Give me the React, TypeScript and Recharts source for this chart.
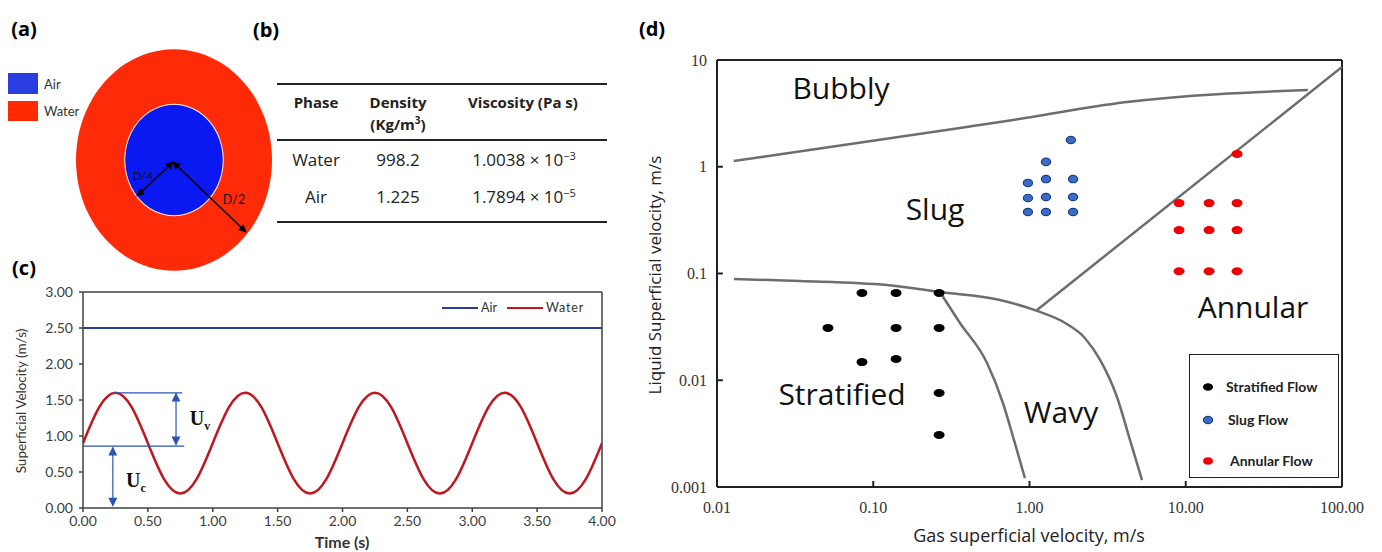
import React from "react";
import {
  LineChart,
  Line,
  XAxis,
  YAxis,
  ReferenceLine,
  ScatterChart,
  Scatter,
  PieChart,
  Pie,
  Cell,
} from "recharts";

// ---- panel (c): superficial velocity vs time ----
const timeTicks = [0, 0.5, 1, 1.5, 2, 2.5, 3, 3.5, 4];
const velTicks = [0, 0.5, 1, 1.5, 2, 2.5, 3];
const times = [
  0, 0.125, 0.25, 0.375, 0.5, 0.625, 0.75, 0.875,
  1, 1.125, 1.25, 1.375, 1.5, 1.625, 1.75, 1.875,
  2, 2.125, 2.25, 2.375, 2.5, 2.625, 2.75, 2.875,
  3, 3.125, 3.25, 3.375, 3.5, 3.625, 3.75, 3.875, 4,
];
const waterVel = [
  0.9, 1.4, 1.6, 1.4, 0.9, 0.4, 0.2, 0.4,
  0.9, 1.4, 1.6, 1.4, 0.9, 0.4, 0.2, 0.4,
  0.9, 1.4, 1.6, 1.4, 0.9, 0.4, 0.2, 0.4,
  0.9, 1.4, 1.6, 1.4, 0.9, 0.4, 0.2, 0.4, 0.9,
];
const airTimes = [0, 4];
const airVel = [2.5, 2.5];

// ---- panel (d): flow regime map ----
const gasTicks = [0.01, 0.1, 1, 10, 100];
const liqTicks = [0.001, 0.01, 0.1, 1, 10];

const bubblySlugX = [0.0128, 0.359, 0.647, 4.2, 60.5];
const bubblySlugY = [1.13, 2.31, 2.62, 4.04, 5.24];
const slugAnnularX = [1.117, 100];
const slugAnnularY = [0.0455, 8.6];
const stratUpperX = [0.01285, 0.034, 0.1225, 0.267, 0.647, 1.117, 1.69, 2.26, 2.83, 3.63, 4.4, 5.25];
const stratUpperY = [0.0888, 0.0851, 0.078, 0.0671, 0.0565, 0.0446, 0.0344, 0.0249, 0.0155, 0.00697, 0.00275, 0.00116];
const stratWavyX = [0.267, 0.359, 0.535, 0.676, 0.796, 0.935];
const stratWavyY = [0.0671, 0.0344, 0.0145, 0.00612, 0.00275, 0.00121];

const stratifiedX = [0.0847, 0.14, 0.264, 0.0513, 0.14, 0.264, 0.0847, 0.14, 0.264, 0.264];
const stratifiedY = [0.0656, 0.0656, 0.0656, 0.0309, 0.0309, 0.0309, 0.0148, 0.0158, 0.0076, 0.00307];
const slugX = [1.84, 1.275, 0.977, 1.275, 1.9, 0.977, 1.275, 1.9, 0.977, 1.275, 1.9];
const slugY = [1.78, 1.11, 0.705, 0.767, 0.767, 0.51, 0.521, 0.521, 0.377, 0.377, 0.377];
const annularX = [21.3, 9.06, 14.1, 21.3, 9.06, 14.1, 21.3, 9.06, 14.1, 21.3];
const annularY = [1.32, 0.457, 0.457, 0.457, 0.255, 0.255, 0.255, 0.105, 0.105, 0.105];

const innerTicksX = [0.1, 1, 10];
const innerTicksY = [0.01, 0.1, 1];

// ---- panel (b): properties table ----
const phases = ["Water", "Air"];
const densities = ["998.2", "1.225"];
const viscMantissa = ["1.0038", "1.7894"];
const viscExp = ["\u22123", "\u22125"];

const zip = (xs: number[], ys: number[]) => xs.map((x, i) => ({ x, y: ys[i] }));

const waterData = times.map((t, i) => ({ t, water: waterVel[i] }));
const airData = airTimes.map((t, i) => ({ t, air: airVel[i] }));

const sans = "'Open Sans', sans-serif";
const lato = "Lato, sans-serif";
const serif = "'Liberation Serif', 'Times New Roman', serif";

function T({ x, y, children, style }: { x: number; y: number; children: React.ReactNode; style?: React.CSSProperties }) {
  return (
    <div
      style={{
        position: "absolute",
        left: x,
        top: y,
        transform: "translate(-50%, -50%)",
        whiteSpace: "nowrap",
        lineHeight: 1,
        ...style,
      }}
    >
      {children}
    </div>
  );
}

const noDot = () => <g />;
const blackDot = (p: any) => <ellipse cx={p.cx} cy={p.cy} rx={5.5} ry={4} fill="#000" />;
const blueDot = (p: any) => (
  <ellipse cx={p.cx} cy={p.cy} rx={4.6} ry={3.7} fill="#3b6cc6" stroke="#1c3c86" strokeWidth={1.2} />
);
const redDot = (p: any) => <ellipse cx={p.cx} cy={p.cy} rx={5.5} ry={4} fill="#f20000" />;

const boundary = { stroke: "#6d6d6d", strokeWidth: 2.5 };

export default function App() {
  const blue = "#2b55b3";
  const axisGrey = "#404040";
  return (
    <div style={{ position: "absolute", left: 0, top: 0, width: 1382, height: 552, background: "#fff", overflow: "hidden", fontFamily: sans }}>
      {/* panel labels */}
      <T x={24} y={29} style={{ fontWeight: 700, fontSize: 20 }}>(a)</T>
      <T x={266} y={30} style={{ fontWeight: 700, fontSize: 20 }}>(b)</T>
      <T x={24} y={268} style={{ fontWeight: 700, fontSize: 20 }}>(c)</T>
      <T x={652} y={29} style={{ fontWeight: 700, fontSize: 20 }}>(d)</T>

      {/* (a) cross-section */}
      <div style={{ position: "absolute", left: 8, top: 73, width: 30, height: 21, background: "#2a3de0" }} />
      <div style={{ position: "absolute", left: 8, top: 101, width: 30, height: 20, background: "#ff2a00" }} />
      <div style={{ position: "absolute", left: 44, top: 76, fontSize: 13, fontFamily: lato, color: "#333" }}>Air</div>
      <div style={{ position: "absolute", left: 44, top: 103, fontSize: 13, fontFamily: lato, color: "#333" }}>Water</div>
      <div style={{ position: "absolute", left: 74, top: 60, width: 200, height: 200, transform: "scaleY(1.13)", transformOrigin: "center" }}>
        <PieChart width={200} height={200} margin={{ top: 0, right: 0, bottom: 0, left: 0 }}>
          <Pie data={[{ name: "Water", value: 1 }]} dataKey="value" cx={100} cy={100} outerRadius={98} innerRadius={0} startAngle={90} endAngle={-270} stroke="none" isAnimationActive={false}>
            <Cell fill="#ff2a08" />
          </Pie>
          <Pie data={[{ name: "Air", value: 1 }]} dataKey="value" cx={100} cy={100} outerRadius={49} innerRadius={0} startAngle={90} endAngle={-270} stroke="none" isAnimationActive={false}>
            <Cell fill="#0a18f2" />
          </Pie>
          <Pie data={[{ name: "Interface", value: 1 }]} dataKey="value" cx={100} cy={100} outerRadius={49.8} innerRadius={48.8} startAngle={90} endAngle={-270} stroke="none" isAnimationActive={false}>
            <Cell fill="#f4f0e0" />
          </Pie>
        </PieChart>
      </div>
      <svg style={{ position: "absolute", left: 0, top: 0 }} width={300} height={280}>
        <defs>
          <marker id="blackHead" viewBox="0 0 10 10" refX="9" refY="5" markerWidth="9" markerHeight="8" markerUnits="userSpaceOnUse" orient="auto-start-reverse">
            <path d="M0,0 L10,5 L0,10 z" fill="#000" />
          </marker>
        </defs>
        <line x1={173} y1={162} x2={137} y2={196} stroke="#000" strokeWidth={1.6} markerStart="url(#blackHead)" markerEnd="url(#blackHead)" />
        <line x1={173} y1={162} x2={246} y2={232} stroke="#000" strokeWidth={1.6} markerStart="url(#blackHead)" markerEnd="url(#blackHead)" />
      </svg>
      <T x={143} y={176} style={{ fontSize: 11.5, fontFamily: lato, color: "#111" }}>D/4</T>
      <T x={234} y={200} style={{ fontSize: 12.5, fontFamily: lato, color: "#111" }}>D/2</T>

      {/* (b) table */}
      <div style={{ position: "absolute", left: 277, top: 83, width: 330, height: 2, background: "#222" }} />
      <div style={{ position: "absolute", left: 277, top: 139, width: 330, height: 2, background: "#222" }} />
      <div style={{ position: "absolute", left: 277, top: 221, width: 330, height: 2, background: "#222" }} />
      <T x={316} y={102} style={{ fontWeight: 700, fontSize: 15, color: "#222" }}>Phase</T>
      <T x={398} y={102} style={{ fontWeight: 700, fontSize: 15, color: "#222" }}>Density</T>
      <T x={398} y={123} style={{ fontWeight: 700, fontSize: 15, color: "#222" }}>
        (Kg/m<sup style={{ fontSize: 10 }}>3</sup>)
      </T>
      <T x={523} y={102} style={{ fontWeight: 700, fontSize: 15, color: "#222" }}>Viscosity (Pa s)</T>
      {phases.map((p, i) => (
        <React.Fragment key={p}>
          <T x={316} y={159 + i * 37} style={{ fontSize: 17, color: "#222" }}>{p}</T>
          <T x={398} y={159 + i * 37} style={{ fontSize: 17, color: "#222" }}>{densities[i]}</T>
          <T x={524} y={159 + i * 37} style={{ fontSize: 17, color: "#222" }}>
            {viscMantissa[i]} × 10<sup style={{ fontSize: 11 }}>{viscExp[i]}</sup>
          </T>
        </React.Fragment>
      ))}

      {/* (c) velocity signal */}
      <div style={{ position: "absolute", left: 0, top: 280 }}>
        <LineChart width={620} height={272} margin={{ top: 12, right: 18, bottom: 0, left: 0 }}>
          <defs>
            <marker id="blueHead" viewBox="0 0 10 10" refX="9" refY="5" markerWidth="11" markerHeight="9" markerUnits="userSpaceOnUse" orient="auto-start-reverse">
              <path d="M0,0 L10,5 L0,10 z" fill={blue} />
            </marker>
          </defs>
          <XAxis
            type="number"
            dataKey="t"
            domain={[0, 4]}
            ticks={timeTicks}
            allowDataOverflow
            tickFormatter={(v: number) => v.toFixed(2)}
            height={44}
            tickSize={4}
            tickMargin={4}
            axisLine={{ stroke: axisGrey, strokeWidth: 1.5 }}
            tickLine={{ stroke: axisGrey, strokeWidth: 1.5 }}
            tick={{ fontSize: 14, fontFamily: lato, fill: axisGrey }}
          />
          <YAxis
            type="number"
            domain={[0, 3]}
            ticks={velTicks}
            allowDataOverflow
            tickFormatter={(v: number) => v.toFixed(2)}
            width={83}
            tickSize={4}
            tickMargin={6}
            axisLine={{ stroke: axisGrey, strokeWidth: 1.5 }}
            tickLine={{ stroke: axisGrey, strokeWidth: 1.5 }}
            tick={{ fontSize: 14, fontFamily: lato, fill: axisGrey }}
          />
          <ReferenceLine y={3} stroke={axisGrey} strokeWidth={1.5} />
          <ReferenceLine x={4} stroke={axisGrey} strokeWidth={1.5} />
          <Line data={airData} dataKey="air" type="linear" stroke="#2b3e97" strokeWidth={2} dot={false} isAnimationActive={false} />
          <Line data={waterData} dataKey="water" type="natural" stroke="#c0161d" strokeWidth={2.5} dot={false} isAnimationActive={false} />
          <ReferenceLine segment={[{ x: 0.23, y: 1.6 }, { x: 0.765, y: 1.6 }]} stroke={blue} strokeWidth={1.2} />
          <ReferenceLine segment={[{ x: 0, y: 0.86 }, { x: 0.78, y: 0.86 }]} stroke={blue} strokeWidth={1.2} />
          <ReferenceLine
            segment={[{ x: 0.717, y: 1.59 }, { x: 0.717, y: 0.88 }]}
            stroke={blue}
            strokeWidth={1.2}
            markerStart="url(#blueHead)"
            markerEnd="url(#blueHead)"
          />
          <ReferenceLine
            segment={[{ x: 0.23, y: 0.84 }, { x: 0.23, y: 0.03 }]}
            stroke={blue}
            strokeWidth={1.2}
            markerStart="url(#blueHead)"
            markerEnd="url(#blueHead)"
          />
        </LineChart>
      </div>
      <T x={22} y={401} style={{ transform: "translate(-50%, -50%) rotate(-90deg)", fontSize: 13.5, fontFamily: lato, color: "#333" }}>
        Superficial Velocity (m/s)
      </T>
      <T x={342} y={542} style={{ fontSize: 16, fontWeight: 700, fontFamily: lato, color: "#333" }}>Time (s)</T>
      <T x={200} y={420} style={{ fontFamily: serif, fontWeight: 700, fontSize: 20, color: "#111" }}>
        U<sub style={{ fontSize: 12 }}>v</sub>
      </T>
      <T x={136} y={482} style={{ fontFamily: serif, fontWeight: 700, fontSize: 20, color: "#111" }}>
        U<sub style={{ fontSize: 12 }}>c</sub>
      </T>
      <div style={{ position: "absolute", left: 442, top: 307, width: 36, height: 2, background: "#2b3e97" }} />
      <T x={489} y={308} style={{ fontSize: 12.5, fontFamily: lato, color: "#333" }}>Air</T>
      <div style={{ position: "absolute", left: 507, top: 307, width: 36, height: 2, background: "#c0161d" }} />
      <T x={565} y={308} style={{ fontSize: 12.5, fontFamily: lato, color: "#333", letterSpacing: 0.8 }}>Water</T>

      {/* (d) flow regime map */}
      <div style={{ position: "absolute", left: 620, top: 0 }}>
        <ScatterChart width={762} height={552} margin={{ top: 60, right: 40, bottom: 0, left: 0 }}>
          <XAxis
            type="number"
            dataKey="x"
            scale="log"
            domain={[0.01, 100]}
            ticks={gasTicks}
            allowDataOverflow
            tickFormatter={(v: number) => v.toFixed(2)}
            height={65}
            tickLine={false}
            tickSize={5}
            tickMargin={10}
            axisLine={{ stroke: "#222", strokeWidth: 2 }}
            tick={{ fontSize: 16, fontFamily: serif, fill: "#333" }}
          />
          <YAxis
            type="number"
            dataKey="y"
            scale="log"
            domain={[0.001, 10]}
            ticks={liqTicks}
            allowDataOverflow
            tickFormatter={(v: number) => String(v)}
            width={97}
            tickLine={false}
            tickSize={6}
            tickMargin={4}
            axisLine={{ stroke: "#222", strokeWidth: 2 }}
            tick={{ fontSize: 16, fontFamily: serif, fill: "#333" }}
          />
          <ReferenceLine y={10} stroke="#222" strokeWidth={2} />
          <ReferenceLine x={100} stroke="#222" strokeWidth={2} />
          {innerTicksX.map((v) => (
            <ReferenceLine key={"tx" + v} segment={[{ x: v, y: 0.001 }, { x: v, y: 0.00114 }]} stroke="#222" strokeWidth={2} />
          ))}
          {innerTicksY.map((v) => (
            <ReferenceLine key={"ty" + v} segment={[{ x: 0.01, y: v }, { x: 0.0109, y: v }]} stroke="#222" strokeWidth={2} />
          ))}
          <Scatter data={zip(bubblySlugX, bubblySlugY)} line={boundary} lineType="joint" lineJointType="monotoneX" shape={noDot} isAnimationActive={false} />
          <Scatter data={zip(slugAnnularX, slugAnnularY)} line={boundary} lineType="joint" shape={noDot} isAnimationActive={false} />
          <Scatter data={zip(stratUpperX, stratUpperY)} line={boundary} lineType="joint" lineJointType="monotoneX" shape={noDot} isAnimationActive={false} />
          <Scatter data={zip(stratWavyX, stratWavyY)} line={boundary} lineType="joint" lineJointType="monotoneX" shape={noDot} isAnimationActive={false} />
          <Scatter name="Stratified Flow" data={zip(stratifiedX, stratifiedY)} shape={blackDot} isAnimationActive={false} />
          <Scatter name="Slug Flow" data={zip(slugX, slugY)} shape={blueDot} isAnimationActive={false} />
          <Scatter name="Annular Flow" data={zip(annularX, annularY)} shape={redDot} isAnimationActive={false} />
        </ScatterChart>
      </div>
      <T x={654} y={275} style={{ transform: "translate(-50%, -50%) rotate(-90deg)", fontSize: 17, color: "#222" }}>
        Liquid Superficial velocity, m/s
      </T>
      <T x={1029} y={535} style={{ fontSize: 18, color: "#222" }}>Gas superficial velocity, m/s</T>
      <T x={841} y={88} style={{ fontSize: 30, color: "#111" }}>Bubbly</T>
      <T x={935} y={209} style={{ fontSize: 30, color: "#111" }}>Slug</T>
      <T x={842} y={394} style={{ fontSize: 30, color: "#111" }}>Stratified</T>
      <T x={1061} y={412} style={{ fontSize: 30, color: "#111" }}>Wavy</T>
      <T x={1253} y={307} style={{ fontSize: 30, color: "#111" }}>Annular</T>

      <div style={{ position: "absolute", left: 1189, top: 354, width: 148, height: 122, border: "1.5px solid #222", background: "#fff" }} />
      <svg style={{ position: "absolute", left: 1190, top: 355 }} width={40} height={120}>
        <ellipse cx={18} cy={32} rx={5} ry={3.8} fill="#000" />
        <ellipse cx={18} cy={65} rx={4.6} ry={3.6} fill="#3b6cc6" stroke="#1c3c86" strokeWidth={1.2} />
        <ellipse cx={18} cy={106} rx={5} ry={3.8} fill="#f20000" />
      </svg>
      <div style={{ position: "absolute", left: 1226, top: 378, fontSize: 14, fontWeight: 700, fontFamily: lato, color: "#222" }}>Stratified Flow</div>
      <div style={{ position: "absolute", left: 1228, top: 411, fontSize: 14, fontWeight: 700, fontFamily: lato, color: "#222" }}>Slug Flow</div>
      <div style={{ position: "absolute", left: 1230, top: 452, fontSize: 14, fontWeight: 700, fontFamily: lato, color: "#222" }}>Annular Flow</div>
    </div>
  );
}
